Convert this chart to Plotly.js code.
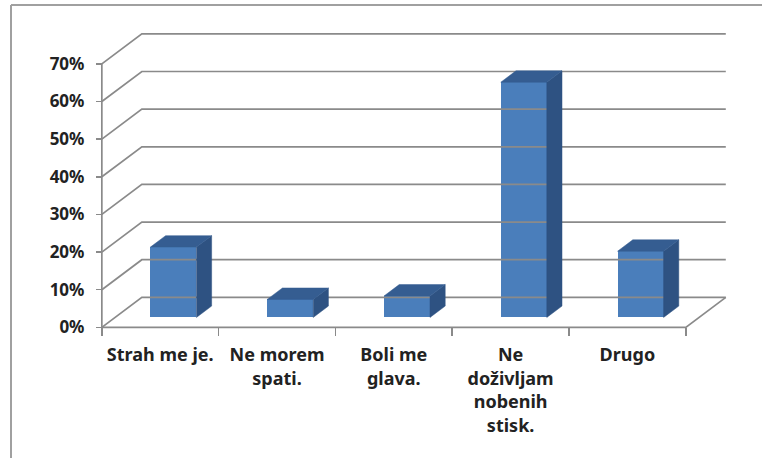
<!DOCTYPE html>
<html>
<head>
<meta charset="utf-8">
<script src="https://cdn.plot.ly/plotly-3.0.1.min.js"></script>
<style>html,body{margin:0;padding:0;background:#fff;}#chart{width:762px;height:458px;}</style>
</head>
<body>
<div id="chart"></div>
<script>
// ---- data ----
const categories = ['Strah me je.', 'Ne morem<br>spati.', 'Boli me<br>glava.', 'Ne<br>doživljam<br>nobenih<br>stisk.', 'Drugo'];
const values = [18.7, 4.8, 5.7, 62.5, 17.6];
const yTickValues = [0, 10, 20, 30, 40, 50, 60, 70];
const yTickLabels = ['0%', '10%', '20%', '30%', '40%', '50%', '60%', '70%'];

// ---- geometry (pseudo-3D oblique projection) ----
const xRange = [-0.55, 4.87];
const yRange = [-1.5, 79];
const M = {l: 96, r: 33, t: 30, b: 125};
const plotW = 762 - M.l - M.r, plotH = 458 - M.t - M.b;
const pxX = plotW / (xRange[1] - xRange[0]);
const pxY = plotH / (yRange[1] - yRange[0]);
const DX = 40 / pxX;   // full floor depth, x component
const DY = 30 / pxY;   // full floor depth, y component
const f0 = 0.33, f1 = 0.71; // bar front/back depth fractions
const barW = 46 / pxX;
const n = categories.length;
const xL = -0.5, xR = n - 0.5;
const yMax = yTickValues[yTickValues.length - 1];
const gridColor = '#8a8a8a';

// walls, gridlines, floor
const gx = [], gy = [];
yTickValues.forEach(v => {
  gx.push(xL, xL + DX, xR + DX, null);
  gy.push(v, v + DY, v + DY, null);
});
gx.push(xL, xR, xR + DX, null, xL, xL);
gy.push(0, 0, DY, null, 0, yMax);

const catIdx = categories.map((c, i) => i);
const frontX = catIdx.map(i => i + f0 * DX);
const base0 = f0 * DY;
const ddx = (f1 - f0) * DX, ddy = (f1 - f0) * DY;

const sideX = [], sideY = [], topX = [], topY = [];
values.forEach((v, i) => {
  const xl = frontX[i] - barW / 2, xr = frontX[i] + barW / 2;
  const top = base0 + v;
  sideX.push(xr, xr + ddx, xr + ddx, xr, xr, null);
  sideY.push(base0, base0 + ddy, top + ddy, top, base0, null);
  topX.push(xl, xr, xr + ddx, xl + ddx, xl, null);
  topY.push(top, top, top + ddy, top + ddy, top, null);
});

const traces = [
  {type: 'scatter', mode: 'lines', x: gx, y: gy, line: {color: gridColor, width: 1.7},
   hoverinfo: 'skip', showlegend: false},
  {type: 'scatter', mode: 'lines', x: sideX, y: sideY, fill: 'toself', fillcolor: '#2E5282',
   line: {color: '#2E5282', width: 0.5}, hoverinfo: 'skip', showlegend: false},
  {type: 'scatter', mode: 'lines', x: topX, y: topY, fill: 'toself', fillcolor: '#355D91',
   line: {color: '#355D91', width: 0.5}, hoverinfo: 'skip', showlegend: false},
  {type: 'bar', x: frontX, y: values, base: base0, width: barW,
   marker: {color: '#4A7EBB', line: {width: 0}}, showlegend: false}
];

const p2x = px => (px - M.l) / plotW;
const p2y = py => (M.t + plotH - py) / plotH;

const layout = {
  width: 762, height: 458,
  margin: M,
  paper_bgcolor: '#ffffff', plot_bgcolor: 'rgba(0,0,0,0)',
  showlegend: false,
  bargap: 0,
  xaxis: {
    range: xRange, showgrid: false, zeroline: false, showline: false,
    anchor: 'free', position: (0 - yRange[0]) / (yRange[1] - yRange[0]),
    tickmode: 'array', tickvals: catIdx, ticktext: categories, ticks: '',
    ticklabelstandoff: 15,
    tickfont: {family: 'Noto Sans', size: 18, color: '#222222', weight: 'bold'},
    minor: {tickmode: 'array', tickvals: Array.from({length: n + 1}, (_, i) => i - 0.5),
            ticks: 'outside', ticklen: 8, tickwidth: 1.5, tickcolor: gridColor, showgrid: false},
    fixedrange: true
  },
  yaxis: {
    range: yRange, showgrid: false, zeroline: false, showline: false,
    anchor: 'free', position: (xL - xRange[0]) / (xRange[1] - xRange[0]),
    tickmode: 'array', tickvals: yTickValues, ticktext: yTickLabels,
    ticks: 'outside', ticklen: 6, tickwidth: 1.5, tickcolor: gridColor,
    ticklabelstandoff: 8,
    tickfont: {family: 'Noto Sans', size: 17, color: '#222222', weight: 'bold'},
    fixedrange: true
  },
  shapes: [
    {type: 'line', xref: 'paper', yref: 'paper', x0: p2x(11), x1: p2x(11), y0: p2y(470), y1: p2y(5),
     line: {color: '#a0a0a0', width: 2}},
    {type: 'line', xref: 'paper', yref: 'paper', x0: p2x(11), x1: p2x(770), y0: p2y(5), y1: p2y(5),
     line: {color: '#a0a0a0', width: 2}}
  ]
};

Plotly.newPlot('chart', traces, layout, {displayModeBar: false, staticPlot: true});
</script>
</body>
</html>
